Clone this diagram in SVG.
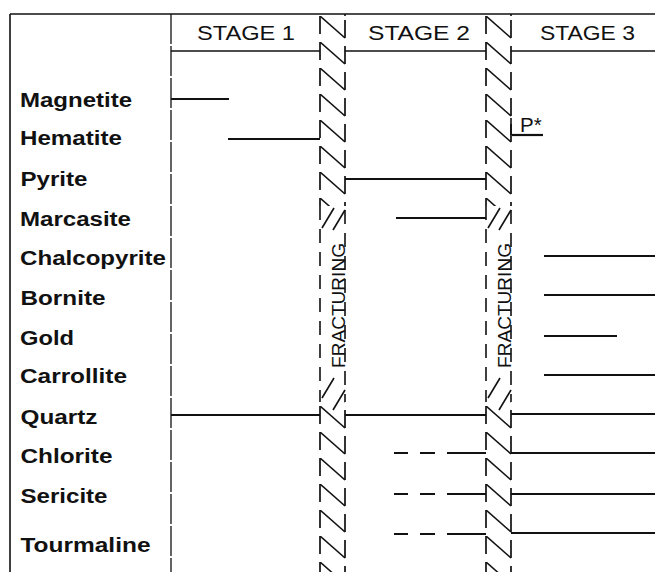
<svg xmlns="http://www.w3.org/2000/svg" width="655" height="572" viewBox="0 0 655 572">
<style>
.frame{stroke:#111;stroke-width:1.6;fill:none}
.sep{stroke:#111;stroke-width:1.3;fill:none;stroke-dasharray:30 2}
.bar{stroke:#111;stroke-width:2.2;fill:none}
.bound{stroke:#111;stroke-width:1.7;fill:none;stroke-dasharray:18 8}
.soft{stroke:#111;stroke-width:1.6;fill:none;stroke-dasharray:14 9}
.diag{stroke:#111;stroke-width:1.6;fill:none}
.lbl{font-family:"Liberation Sans",Arial,sans-serif;font-weight:bold;font-size:20px;fill:#111}
.stage{font-family:"Liberation Sans",Arial,sans-serif;font-size:20.5px;fill:#111}
.frac{font-family:"Liberation Sans",Arial,sans-serif;font-size:18px;fill:#111}
</style>
<defs>
<pattern id="hatch" patternUnits="userSpaceOnUse" x="0" y="16" width="25" height="26">
<line x1="0" y1="0" x2="25" y2="22" class="diag"/>
</pattern>
</defs>
<rect width="655" height="572" fill="#fff"/>
<g id="frame">
<line class="frame" x1="10" y1="14" x2="655" y2="14"/>
<line class="frame" x1="10" y1="14" x2="10" y2="572"/>
<line class="sep" x1="171" y1="14" x2="171" y2="572"/>
<line class="frame" x1="171" y1="51" x2="320" y2="51"/>
<line class="frame" x1="345" y1="51" x2="486" y2="51"/>
<line class="frame" x1="511" y1="51" x2="655" y2="51"/>
</g>
<g id="stages">
<text class="stage" x="197" y="40" textLength="98" lengthAdjust="spacingAndGlyphs">STAGE 1</text>
<text class="stage" x="368" y="40" textLength="102" lengthAdjust="spacingAndGlyphs">STAGE 2</text>
<text class="stage" x="540" y="40" textLength="95" lengthAdjust="spacingAndGlyphs">STAGE 3</text>
</g>
<g id="labels">
<text class="lbl" x="20" y="107" textLength="112" lengthAdjust="spacingAndGlyphs">Magnetite</text>
<text class="lbl" x="20" y="145" textLength="102" lengthAdjust="spacingAndGlyphs">Hematite</text>
<text class="lbl" x="20.5" y="186" textLength="67" lengthAdjust="spacingAndGlyphs">Pyrite</text>
<text class="lbl" x="20" y="226" textLength="111" lengthAdjust="spacingAndGlyphs">Marcasite</text>
<text class="lbl" x="20" y="265" textLength="146" lengthAdjust="spacingAndGlyphs">Chalcopyrite</text>
<text class="lbl" x="20.5" y="305" textLength="85" lengthAdjust="spacingAndGlyphs">Bornite</text>
<text class="lbl" x="20" y="345" textLength="54" lengthAdjust="spacingAndGlyphs">Gold</text>
<text class="lbl" x="20" y="383" textLength="107" lengthAdjust="spacingAndGlyphs">Carrollite</text>
<text class="lbl" x="20.5" y="424" textLength="77" lengthAdjust="spacingAndGlyphs">Quartz</text>
<text class="lbl" x="20.5" y="463" textLength="92" lengthAdjust="spacingAndGlyphs">Chlorite</text>
<text class="lbl" x="20.5" y="503" textLength="87" lengthAdjust="spacingAndGlyphs">Sericite</text>
<text class="lbl" x="20.5" y="552" textLength="130" lengthAdjust="spacingAndGlyphs">Tourmaline</text>
</g>
<g id="fracture1">
<g transform="translate(320,0)">
<rect x="0" y="14" width="25" height="192" fill="url(#hatch)"/>
<rect x="0" y="402" width="25" height="170" fill="url(#hatch)"/>
<line class="bound" x1="0" y1="16" x2="0" y2="206"/>
<line class="bound" x1="25" y1="20" x2="25" y2="206"/>
<line class="diag" x1="25" y1="14" x2="25" y2="16"/>
<line class="soft" x1="0" y1="206" x2="0" y2="402"/>
<line class="soft" x1="25" y1="210" x2="25" y2="402"/>
<line class="bound" x1="0" y1="406" x2="0" y2="572"/>
<line class="bound" x1="25" y1="410" x2="25" y2="572"/>
<line class="diag" x1="2" y1="228" x2="14" y2="208"/>
<line class="diag" x1="13" y1="230" x2="25" y2="210"/>
<line class="diag" x1="2" y1="398" x2="14" y2="378"/>
<line class="diag" x1="13" y1="410" x2="25" y2="390"/>
<text class="frac" transform="translate(25,368) rotate(-90)" textLength="125" lengthAdjust="spacingAndGlyphs">FRACTURING</text>
</g>
</g>
<g id="fracture2">
<g transform="translate(486,0)">
<rect x="0" y="14" width="25" height="192" fill="url(#hatch)"/>
<rect x="0" y="402" width="25" height="170" fill="url(#hatch)"/>
<line class="bound" x1="0" y1="16" x2="0" y2="206"/>
<line class="bound" x1="25" y1="20" x2="25" y2="206"/>
<line class="diag" x1="25" y1="14" x2="25" y2="16"/>
<line class="soft" x1="0" y1="206" x2="0" y2="402"/>
<line class="soft" x1="25" y1="210" x2="25" y2="402"/>
<line class="bound" x1="0" y1="406" x2="0" y2="572"/>
<line class="bound" x1="25" y1="410" x2="25" y2="572"/>
<line class="diag" x1="2" y1="228" x2="14" y2="208"/>
<line class="diag" x1="13" y1="230" x2="25" y2="210"/>
<line class="diag" x1="2" y1="398" x2="14" y2="378"/>
<line class="diag" x1="13" y1="410" x2="25" y2="390"/>
<text class="frac" transform="translate(25,368) rotate(-90)" textLength="125" lengthAdjust="spacingAndGlyphs">FRACTURING</text>
</g>
</g>
<g id="connectors">
<line class="bar" x1="171" y1="99" x2="229" y2="99"/>
<line class="bar" x1="228" y1="139" x2="320" y2="139"/>
<line class="bar" x1="512" y1="135" x2="543" y2="135"/>
<line class="bar" x1="345" y1="179" x2="486" y2="179"/>
<line class="bar" x1="396" y1="218" x2="486" y2="218"/>
<line class="bar" x1="544" y1="256" x2="655" y2="256"/>
<line class="bar" x1="544" y1="295" x2="655" y2="295"/>
<line class="bar" x1="544" y1="336" x2="617" y2="336"/>
<line class="bar" x1="544" y1="375" x2="655" y2="375"/>
<line class="bar" x1="171" y1="415" x2="320" y2="415"/>
<line class="bar" x1="345" y1="415" x2="486" y2="415"/>
<line class="bar" x1="511" y1="414" x2="655" y2="414"/>
<path class="bar" d="M394 453H408M420 453H435M447 453H486M511 453H655"/>
<path class="bar" d="M394 494H408M420 494H435M447 494H486M511 494H655"/>
<path class="bar" d="M394 534H408M420 534H435M447 534H486M511 533H655"/>
</g>
<g id="pstar">
<line class="diag" x1="511" y1="118" x2="511" y2="135"/>
<text class="stage" x="520" y="132">P*</text>
</g>
</svg>
